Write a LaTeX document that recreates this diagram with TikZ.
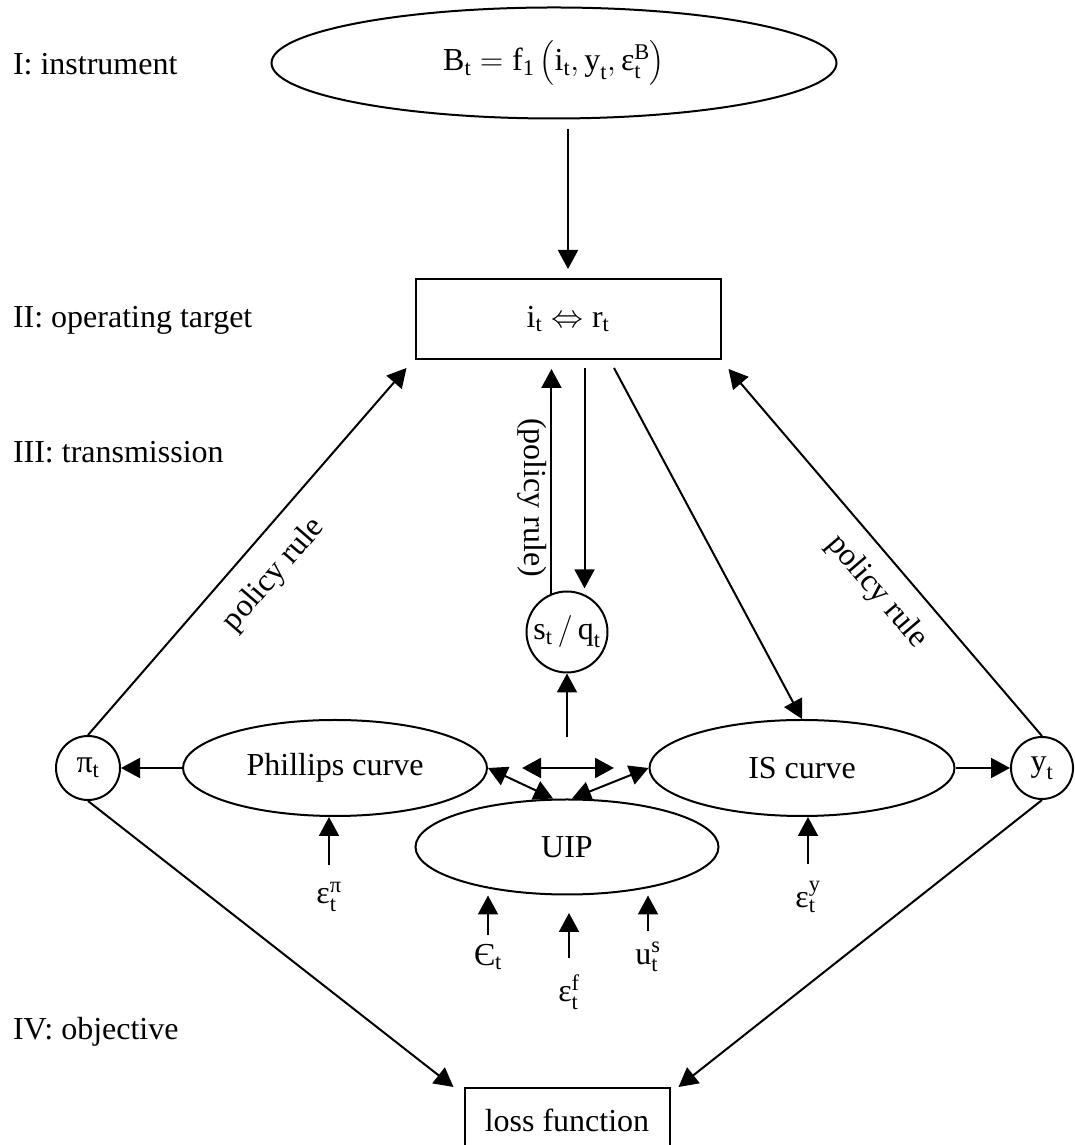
\RequirePackage{fix-cm}
\documentclass[tikz,border=0pt]{standalone}
\usepackage{amsmath}
\usepackage{fontspec}
\setmainfont{Liberation Serif}
\usetikzlibrary{arrows.meta, positioning, shapes.geometric}

\newcommand{\tv}[1]{\text{#1}}

\begin{document}
\begin{tikzpicture}[x=1pt, y=1pt, ->, >={Triangle[length=19pt, width=20pt]}, line width=2pt,
    font=\fontsize{32}{38}\selectfont,
    ell/.style={ellipse, draw, inner sep=0pt},
    rbox/.style={rectangle, draw, inner sep=0pt},
    circ/.style={circle, draw, inner sep=1pt},
    level/.style={anchor=west, inner sep=0pt},
    shock/.style={inner sep=2pt},
    gap/.style={shorten <=10pt, shorten >=9pt}]
      \useasboundingbox (0,0) rectangle (1074,1145);

      % levels
      \node[level] (lv1) at (12,1081) {I: instrument};
      \node[level] (lv2) at (12,825) {II: operating target};
      \node[level] (lv3) at (12,693) {III: transmission};
      \node[level] (lv4) at (12,113) {IV: objective};

      % blocks
      \node[ell, minimum width=565, minimum height=111] (instr) at (554,1082)
        {$\tv{B}_{\tv{t}} = \tv{f}_{\tv{1}}\left(\tv{i}_{\tv{t}}, \tv{y}_{\tv{t}}, \tv{ε}_{\tv{t}}^{\tv{B}}\right)$};
      \node[rbox, minimum width=305, minimum height=80] (tgt) at (568,826)
        {$\tv{i}_{\tv{t}} \Leftrightarrow \tv{r}_{\tv{t}}$};
      \node[circ, minimum size=81] (sq) at (567,513) {$\tv{s}_{\tv{t}}\,/\,\tv{q}_{\tv{t}}$};
      \node[ell, minimum width=304, minimum height=96] (phil) at (335,377) {Phillips curve};
      \node[ell, minimum width=305, minimum height=96] (is) at (802,377) {IS curve};
      \node[ell, minimum width=303, minimum height=95] (uip) at (567,298) {UIP};
      \node[circ, minimum size=64] (pi) at (88,377) {$\tv{π}_{\tv{t}}$};
      \node[circ, minimum size=62] (yt) at (1042,377) {$\tv{y}_{\tv{t}}$};
      \node[rbox, minimum width=205, minimum height=64] (loss) at (567,25) {loss function};

      % shocks
      \node[shock] (epi) at (329,248) {$\tv{ε}_{\tv{t}}^{\tv{π}}$};
      \node[shock] (ey) at (808,248) {$\tv{ε}_{\tv{t}}^{\tv{y}}$};
      \node[shock] (ecal) at (488,188) {$\tv{Є}_{\tv{t}}$};
      \node[shock] (ef) at (569,153) {$\tv{ε}_{\tv{t}}^{\tv{f}}$};
      \node[shock] (us) at (648,188) {$\tv{u}_{\tv{t}}^{\tv{s}}$};

      \coordinate (dl) at (522,377);
      \coordinate (dr) at (614,377);
      \coordinate (sqin) at (567,408);
      \coordinate (efin) at (569,232);

      \path (tgt.north |- instr.south) edge[gap] (tgt.north)
            (sq.112) edge[shorten >=9pt] node[pos=0.41, rotate=-90, anchor=north, inner sep=4pt] {(policy rule)} (sq.112 |- tgt.south)
            (sq.65 |- tgt.south) edge[shorten <=8pt, shorten >=6pt] (sq.65)
            (pi.north) edge node[sloped, below=17pt] {policy rule} ([shift={(-8,-8)}]tgt.south west)
            ([shift={(7,-9)}]tgt.south east) edge[<-] node[pos=0.55, sloped, below=13pt] {policy rule} (yt.north)
            ([shift={(46,-8)}]tgt.south) edge (is.north)
            (phil) edge (pi)
            (is) edge (yt)
            (dl) edge[<->] (dr)
            (sqin) edge (sq)
            (phil.east) edge[<->] ([xshift=-14pt]uip.north)
            (is.west) edge[<->] ([xshift=5pt]uip.north)
            (epi.north) edge[shorten <=14pt] (epi.north |- phil.south)
            (ey.north) edge[shorten <=14pt] (ey.north |- is.south)
            (ecal.north) edge[shorten <=6pt] (ecal.north |- uip.south)
            (us.north) edge[shorten <=8pt] (us.north |- uip.south)
            (ef.north) edge[shorten <=13pt] (efin)
            (pi.south) edge ([xshift=-10pt]loss.north west)
            (yt.south) edge ([xshift=8pt]loss.north east)
            ;
    \end{tikzpicture}
\end{document}
